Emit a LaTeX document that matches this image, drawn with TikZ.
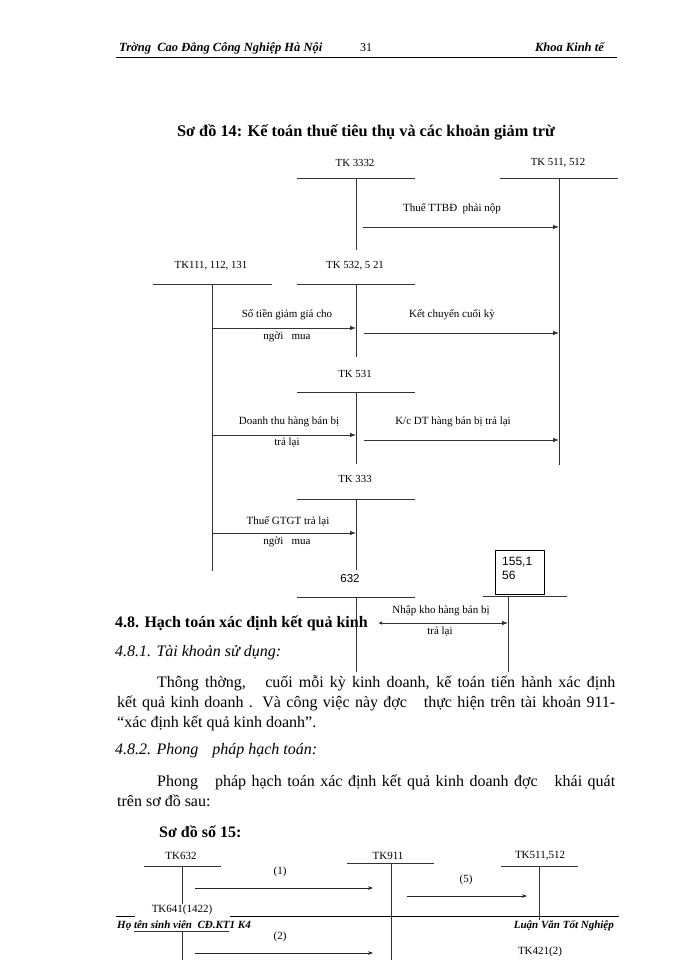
\documentclass[tikz,border=0pt]{standalone}
\usepackage{fontspec}
\setmainfont{Liberation Serif}
\newfontfamily\sansf{Liberation Sans}
\usetikzlibrary{arrows.meta}
\newcommand\taccount[9]{%
  \node[lbl] (#1) at (#2,#3) {#4};
  \coordinate (#1-l) at (#5,#7); \coordinate (#1-r) at (#6,#7);
  \coordinate (#1-t) at (#8,#7); \coordinate (#1-b) at (#8,#9);
  \draw[acct] (#1-l) -- (#1-r);
  \draw[acct] (#1-t) -- (#1-b);}
\begin{document}
\begin{tikzpicture}[x=1pt,y=-1pt,
  lbl/.style={font=\fontsize{10.8}{12}\selectfont, inner sep=0pt},
  txt/.style={font=\fontsize{11}{12}\selectfont, inner sep=0pt},
  acct/.style={line width=0.8pt, draw=black!80},
  flow/.style={line width=0.8pt, draw=black!80, -{Latex[length=6pt,width=4.5pt]}},
  flowb/.style={line width=0.6pt, draw=black!85, -{Stealth[length=5pt,width=3.5pt]}},
  body/.style={font=\fontsize{16}{18}\selectfont, inner sep=0pt, anchor=base west},
  hdr/.style={font=\bfseries\itshape\fontsize{12.5}{14}\selectfont, inner sep=0pt, anchor=base west},
]
\fill[white] (0,0) rectangle (700,960);
\useasboundingbox (0,0) rectangle (700,960);

% ---------- header ----------
\node[hdr] (h1) at (119,52) {Trờng \ Cao Đẳng Công Nghiệp Hà Nội};
\node[inner sep=0pt, anchor=base west, font=\fontsize{12}{14}\selectfont] (h2) at (360,52) {31};
\node[hdr, anchor=base east] (h3) at (604,52) {Khoa Kinh tế};
\coordinate (hl1) at (116,57.5); \coordinate (hl2) at (617,57.5);
\draw[line width=1.5pt] (hl1) -- (hl2);

% ---------- title ----------
\node[inner sep=0pt, font=\bfseries\fontsize{16.3}{18}\selectfont] (title) at (366,132) {Sơ đồ 14: Kế toán thuế tiêu thụ và các khoản giảm trừ};

% ---------- diagram 14 ----------
\taccount{k3332}{355}{163}{TK 3332}{297}{415}{178}{356}{250}
\taccount{k511}{558}{163}{TK 511, 512}{500}{618}{178}{559}{465}
\taccount{k111}{211}{266}{TK111, 112, 131}{153}{272}{284}{212}{571}
\taccount{k532}{355}{266}{TK 532, 5 21}{297}{415}{284}{356}{357}
\taccount{k531}{355}{374}{TK 531}{297}{415}{392}{356}{464}
\taccount{k333}{355}{479}{TK 333}{297}{415}{499}{356}{570}
\begin{scope}[lbl/.style={font=\sansf\fontsize{11.5}{13}\selectfont, inner sep=0pt}]
\taccount{k632}{350}{579}{632}{297}{415}{597}{356}{672}
\end{scope}
% box 155,156
\node[draw, line width=0.8pt, minimum width=49pt, minimum height=44pt, inner sep=0pt] (box) at (519.5,572) {};
\node[inner sep=0pt, anchor=north west, align=left, font=\sansf\fontsize{12}{14}\selectfont] (boxt) at (502,557) {155,1\\56};
\coordinate (k155-l) at (483,596); \coordinate (k155-r) at (567,596);
\coordinate (k155-t) at (508,596); \coordinate (k155-b) at (508,672);
\draw[acct] (k155-l) -- (k155-r);
\draw[acct] (k155-t) -- (k155-b);

% arrows
\coordinate (a1s) at (363,227); \coordinate (a1e) at (559,227);
\draw[flow] (a1s) -- (a1e);
\node[txt] (t1) at (452,209) {Thuế TTBĐ \ phải nộp};

\coordinate (a2s) at (212,328); \coordinate (a2e) at (356,328);
\draw[flow] (a2s) -- (a2e);
\node[txt] (t2a) at (287,315) {Số tiền giảm giá cho};
\node[txt] (t2b) at (287,337) {ngời \ \ mua};

\coordinate (a3s) at (364,333); \coordinate (a3e) at (559,333);
\draw[flow] (a3s) -- (a3e);
\node[txt] (t3) at (452,315) {Kết chuyển cuối kỳ};

\coordinate (a4s) at (212,435); \coordinate (a4e) at (356,435);
\draw[flow] (a4s) -- (a4e);
\node[txt] (t4a) at (289,422) {Doanh thu hàng bán bị};
\node[txt] (t4b) at (287,443) {trả lại};

\coordinate (a5s) at (364,440); \coordinate (a5e) at (559,440);
\draw[flow] (a5s) -- (a5e);
\node[txt] (t5) at (453,422) {K/c DT hàng bán bị trả lại};

\coordinate (a6s) at (212,533); \coordinate (a6e) at (356,533);
\draw[flow] (a6s) -- (a6e);
\node[txt] (t6a) at (288,521) {Thuế GTGT trả lại};
\node[txt] (t6b) at (287,542) {ngời \ \ mua};

\coordinate (a7s) at (378,623); \coordinate (a7e) at (508,623);
\draw[line width=0.8pt, draw=black!80, {Latex[length=4pt,width=3.5pt]}-{Latex[length=6pt,width=4.5pt]}] (a7s) -- (a7e);
\node[txt] (t7a) at (441,611) {Nhập kho hàng bán bị};
\node[txt] (t7b) at (440,632) {trả lại};

% ---------- text body ----------
\node[body, font=\bfseries\fontsize{16}{18}\selectfont] (s48) at (115,627) {4.8. Hạch toán xác định kết quả kinh};
\node[body, font=\itshape\fontsize{16}{18}\selectfont] (s481) at (115,656) {4.8.1. Tài khoản sử dụng:};
\node[body] (p1) at (157,687) {\makebox[458pt][s]{Thông thờng, \hspace{6pt} cuối mỗi kỳ kinh doanh, kế toán tiến hành xác định}};
\node[body] (p2) at (117,707) {\makebox[498pt][s]{kết quả kinh doanh . Và công việc này đợc \hspace{6pt} thực hiện trên tài khoản 911-}};
\node[body] (p3) at (117,727) {“xác định kết quả kinh doanh”.};
\node[body, font=\itshape\fontsize{16}{18}\selectfont] (s482) at (115,754) {4.8.2. Phong \hspace{6pt} pháp hạch toán:};
\node[body] (p4) at (157,786) {\makebox[458pt][s]{Phong \hspace{6pt} pháp hạch toán xác định kết quả kinh doanh đợc \hspace{6pt} khái quát}};
\node[body] (p5) at (117,806) {trên sơ đồ sau:};
\node[body, font=\bfseries\fontsize{16}{18}\selectfont] (s15) at (159,837) {Sơ đồ số 15:};

% ---------- diagram 15 ----------
\begin{scope}[lbl/.style={font=\fontsize{11}{13}\selectfont, inner sep=0pt}]
\taccount{L632}{181}{856}{TK632}{144}{221}{866.5}{182}{904}
\taccount{L911}{388}{856}{TK911}{347}{434}{863.5}{391}{960}
\taccount{L511}{540}{856}{TK511,512}{501}{578}{866.5}{539}{920}
\node[lbl] (L641) at (182,910) {TK641(1422)};
\coordinate (L641-l) at (134,931); \coordinate (L641-r) at (229,931);
\coordinate (L641-t) at (182,931); \coordinate (L641-b) at (182,960);
\draw[acct] (L641-l) -- (L641-r);
\draw[acct] (L641-t) -- (L641-b);
\node[lbl] (L421) at (540,952) {TK421(2)};

\coordinate (b1s) at (195,888); \coordinate (b1e) at (373,888);
\draw[flowb] (b1s) -- (b1e);
\node[lbl] (n1) at (280,872) {(1)};
\coordinate (b5s) at (407,896); \coordinate (b5e) at (527,896);
\draw[flowb] (b5s) -- (b5e);
\node[lbl] (n5) at (466,880) {(5)};
\coordinate (b2s) at (195,953); \coordinate (b2e) at (373,953);
\draw[flowb] (b2s) -- (b2e);
\node[lbl] (n2) at (280,937) {(2)};
\end{scope}

% ---------- footer ----------
\coordinate (f1) at (116,916.5); \coordinate (f2) at (135,916.5);
\coordinate (f3) at (230,916.5); \coordinate (f4) at (619,916.5);
\draw[line width=1.8pt] (f1) -- (f2);
\draw[line width=1.8pt] (f3) -- (f4);
\node[hdr, font=\bfseries\itshape\fontsize{11}{13}\selectfont] (fl) at (117,928) {Họ tên sinh viên \ CĐ.KT1 K4};
\node[hdr, anchor=base east, font=\bfseries\itshape\fontsize{11}{13}\selectfont] (fr) at (614,928) {Luận Văn Tốt Nghiệp};
\end{tikzpicture}
\end{document}
